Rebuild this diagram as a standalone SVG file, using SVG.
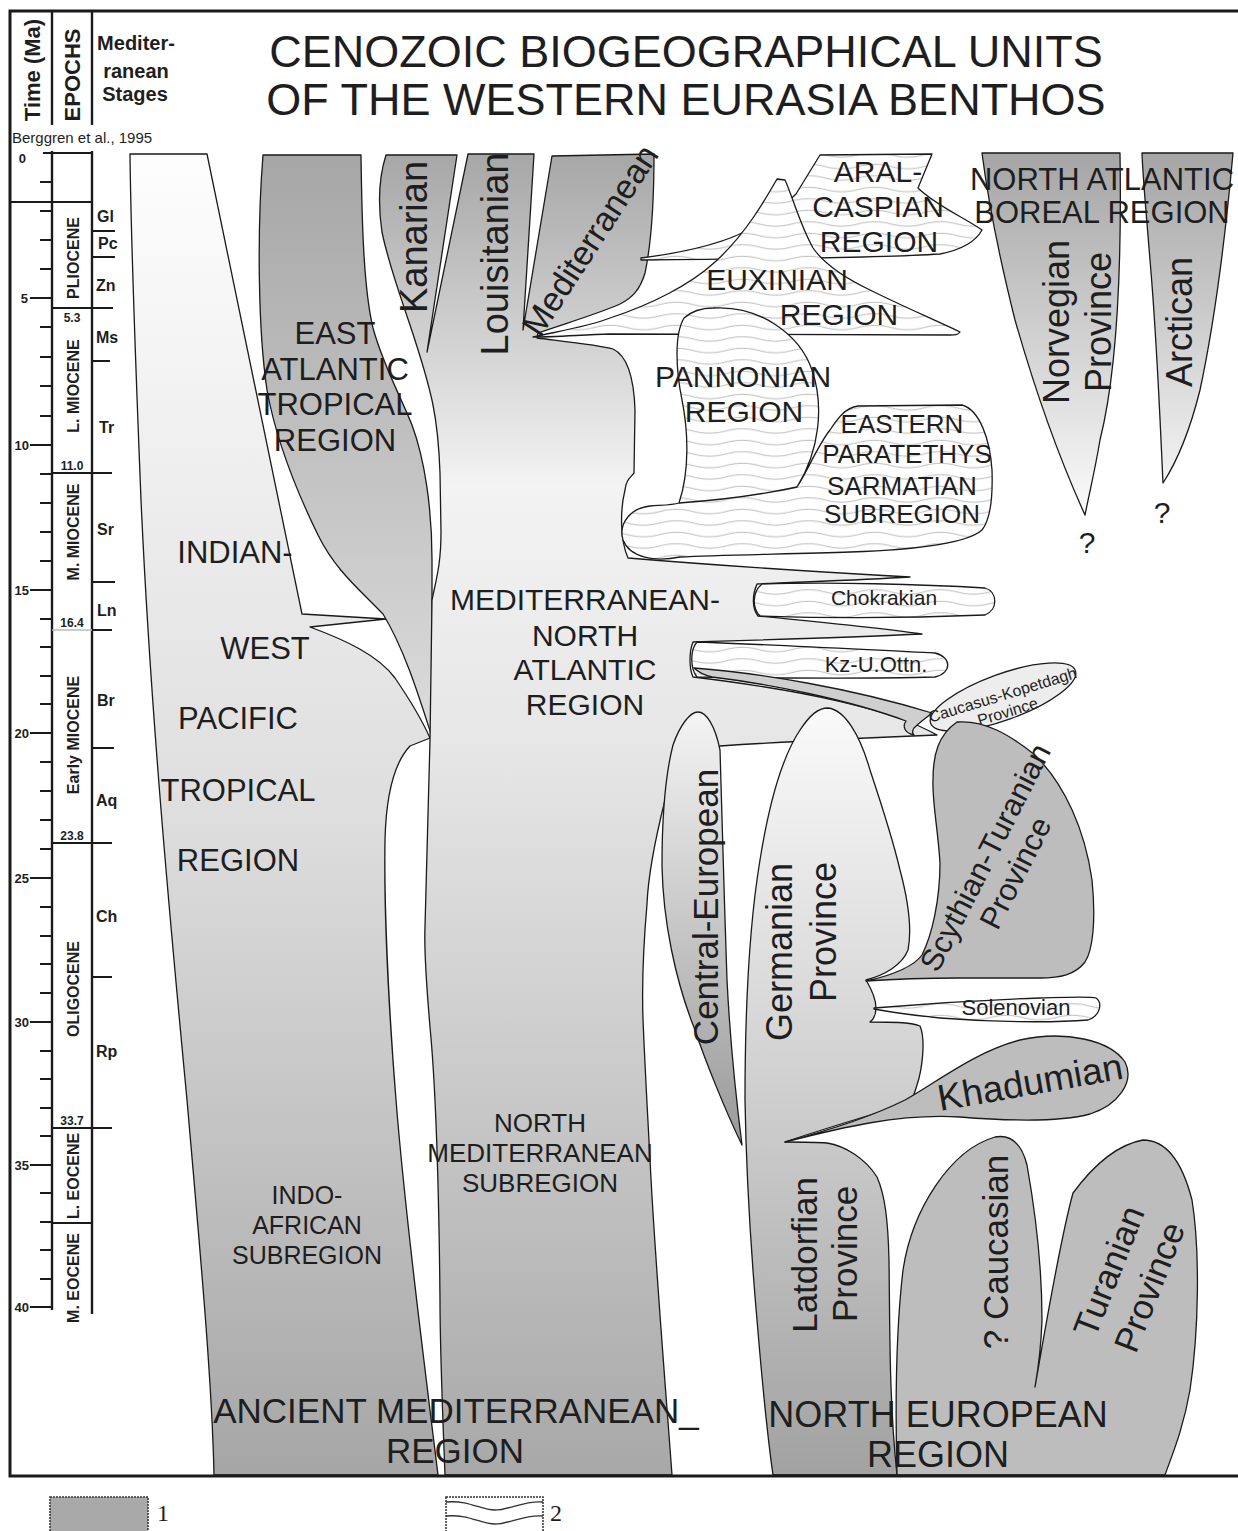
<svg xmlns="http://www.w3.org/2000/svg" width="1238" height="1531" viewBox="0 0 1238 1531">
<defs>
<style>
.t{font-family:"Liberation Sans",Arial,sans-serif;fill:#1e1e1e}
.b{font-weight:bold}
.o{stroke:#1a1a1a;stroke-width:1.3;stroke-linejoin:round}
.ln{stroke:#1a1a1a;stroke-width:2.4;fill:none}
.tk{stroke:#1a1a1a;stroke-width:2;fill:none}
.hat{fill:url(#wav)}
.solid{fill:#bdbdbd}
</style>
<linearGradient id="gL" gradientUnits="userSpaceOnUse" x1="0" y1="154" x2="0" y2="1475"><stop offset="0" stop-color="#fdfdfd"/><stop offset="0.5" stop-color="#dedede"/><stop offset="1" stop-color="#a6a6a6"/></linearGradient>
<linearGradient id="gE" gradientUnits="userSpaceOnUse" x1="0" y1="155" x2="0" y2="737"><stop offset="0" stop-color="#a6a6a6"/><stop offset="1" stop-color="#dcdcdc"/></linearGradient>
<linearGradient id="gM" gradientUnits="userSpaceOnUse" x1="0" y1="155" x2="0" y2="1475"><stop offset="0" stop-color="#a7a7a7"/><stop offset="0.25" stop-color="#f3f3f3"/><stop offset="0.45" stop-color="#e6e6e6"/><stop offset="1" stop-color="#a8a8a8"/></linearGradient>
<linearGradient id="gG" gradientUnits="userSpaceOnUse" x1="0" y1="708" x2="0" y2="1475"><stop offset="0" stop-color="#fafafa"/><stop offset="0.5" stop-color="#cfcfcf"/><stop offset="1" stop-color="#a2a2a2"/></linearGradient>
<linearGradient id="gC" gradientUnits="userSpaceOnUse" x1="0" y1="712" x2="0" y2="1145"><stop offset="0" stop-color="#f4f4f4"/><stop offset="1" stop-color="#999999"/></linearGradient>
<linearGradient id="gN" gradientUnits="userSpaceOnUse" x1="0" y1="153" x2="0" y2="515"><stop offset="0" stop-color="#a5a5a5"/><stop offset="1" stop-color="#fbfbfb"/></linearGradient>
<pattern id="wav" patternUnits="userSpaceOnUse" width="66" height="11.5"><rect width="66" height="11.5" fill="#ffffff"/><path d="M0,5.5 C11,2.5 22,2.5 33,5.5 S55,8.5 66,5.5" stroke="#9c9c9c" stroke-width="0.7" fill="none"/></pattern>
</defs>

<rect x="0" y="0" width="1238" height="1531" fill="#ffffff"/>

<g id="timescale">
<path class="ln" d="M52,11 V125 M92,11 V125 M52,151 V1310 M92,151 V1314"/>
<path class="tk" d="M43,153 H92 M10,202 H92 M52,308 H113 M52,473 H112 M92,630 H112 M52,843 H112 M52,1128 H112 M52,1223 H92"/>
<path stroke="#bbbbbb" stroke-width="1.5" d="M52,630 H92"/>
<path class="tk" d="M92,231 H115 M92,257 H115 M92,361 H110 M92,582 H115 M92,748 H114 M92,977 H112"/>
<path class="tk" d="M30,298 H52 M30,445 H52 M30,590 H52 M30,733 H52 M30,878 H52 M30,1022 H52 M30,1165 H52 M30,1307 H52"/>
<path class="tk" d="M40,182 H52 M40,211 H52 M40,240 H52 M40,269 H52 M40,327 H52 M40,357 H52 M40,386 H52 M40,416 H52 M40,474 H52 M40,503 H52 M40,532 H52 M40,561 H52 M40,619 H52 M40,647 H52 M40,676 H52 M40,704 H52 M40,762 H52 M40,791 H52 M40,820 H52 M40,849 H52 M40,907 H52 M40,936 H52 M40,964 H52 M40,993 H52 M40,1051 H52 M40,1079 H52 M40,1108 H52 M40,1136 H52 M40,1193 H52 M40,1222 H52 M40,1250 H52 M40,1279 H52"/>
<g class="t b" font-size="13" text-anchor="end">
<text x="26" y="163">0</text><text x="28" y="303">5</text><text x="29" y="450">10</text><text x="29" y="595">15</text><text x="29" y="738">20</text><text x="29" y="883">25</text><text x="29" y="1027">30</text><text x="29" y="1170">35</text><text x="29" y="1312">40</text>
</g>
<g class="t b" font-size="12" text-anchor="middle">
<text x="72" y="322">5.3</text><text x="72" y="470">11.0</text><text x="72" y="627">16.4</text><text x="72" y="840">23.8</text><text x="72" y="1125">33.7</text>
</g>
<g class="t b" font-size="16" text-anchor="middle">
<text transform="translate(73,258) rotate(-90)" dy="0.36em">PLIOCENE</text>
<text transform="translate(73,386) rotate(-90)" dy="0.36em">L. MIOCENE</text>
<text transform="translate(73,532) rotate(-90)" dy="0.36em">M. MIOCENE</text>
<text transform="translate(73,735) rotate(-90)" dy="0.36em">Early MIOCENE</text>
<text transform="translate(73,989) rotate(-90)" dy="0.36em">OLIGOCENE</text>
<text transform="translate(73,1176) rotate(-90)" dy="0.36em">L. EOCENE</text>
<text transform="translate(73,1278) rotate(-90)" dy="0.36em">M. EOCENE</text>
</g>
<g class="t b" font-size="16">
<text x="97" y="222">Gl</text><text x="98" y="249">Pc</text><text x="96" y="291">Zn</text><text x="96" y="343">Ms</text><text x="99" y="433">Tr</text><text x="97" y="535">Sr</text><text x="97" y="616">Ln</text><text x="97" y="706">Br</text><text x="96" y="806">Aq</text><text x="96" y="922">Ch</text><text x="96" y="1057">Rp</text>
</g>
<text class="t b" font-size="22" text-anchor="middle" transform="translate(32,70) rotate(-90)" dy="0.36em">Time (Ma)</text>
<text class="t b" font-size="22" text-anchor="middle" transform="translate(72,75) rotate(-90)" dy="0.36em">EPOCHS</text>
<g class="t b" font-size="20" text-anchor="middle">
<text x="136" y="50">Mediter-</text><text x="136" y="78">ranean</text><text x="135" y="101">Stages</text>
</g>
<text class="t" font-size="15" x="12" y="143">Berggren et al., 1995</text>
</g>

<g id="title" class="t" font-size="45" text-anchor="middle">
<text x="686" y="67">CENOZOIC BIOGEOGRAPHICAL UNITS</text>
<text x="686" y="115">OF THE WESTERN EURASIA BENTHOS</text>
</g>

<g id="connectors"></g>

<g id="indo-west-pacific">
<path class="o" fill="url(#gL)" d="M130,154 L207,154 L302,614 L386,619 L310,627 C345,640 378,655 395,678 C410,700 422,720 430,738 L410,746 C392,765 386,800 385,840 C384,900 388,1000 396,1100 C404,1200 420,1330 438,1475 L214,1475 C212,1380 200,1250 187,1100 C168,900 150,700 141,500 C135,350 131,250 130,154 Z"/>
</g>

<g id="east-atlantic">
<path class="o" fill="url(#gE)" d="M263,155 L361,155 C362,230 364,290 373,328 C383,365 400,395 412,425 C425,460 432,510 432,560 L432,737 C420,700 405,650 383,614 C360,590 335,570 318,535 C296,490 276,440 267,390 C258,330 257,230 263,155 Z"/>
</g>

<g id="mediterranean-north-atlantic">
<path class="o" fill="url(#gM)" d="M386,155 L457,155 L427,352 L468,154 L534,154 L523,330 L552,156 L654,154 C654,190 652,240 645,273 C640,290 632,298 620,304 C595,315 560,325 538,333 L537,338 C570,342 600,345 613,349 C628,356 634,380 635,410 L634,473 C630,478 626,480 625,490 C620,510 620,540 628,558 C700,564 820,572 910,577 C860,580 800,582 757,584 C752,595 752,608 758,616 C820,622 880,628 922,634 C860,637 760,640 693,642 C689,652 689,668 693,677 C760,685 840,698 900,718 C915,724 928,730 937,735 C860,738 780,742 720,746 C700,760 680,780 665,800 C655,840 648,880 647,904 C643,950 642,990 643,1019 C645,1070 648,1120 650,1160 C655,1260 665,1380 672,1475 L445,1475 C442,1400 440,1330 440,1300 C439,1200 437,1100 430,1027 C426,980 424,950 425,927 C426,880 428,830 430,740 L432,600 C436,580 441,565 441,532 L440,473 C439,445 437,425 433,405 C428,380 420,355 410,325 C400,295 388,262 382,232 C378,205 378,180 386,155 Z"/>
</g>

<g id="central-european">
<path class="o" fill="url(#gC)" d="M698,712 C706,712 715,725 720,750 C722,800 724,900 727,980 C730,1040 735,1090 742,1145 C725,1110 705,1060 695,1030 C675,980 663,920 662,866 C662,820 664,780 673,745 C680,725 690,712 698,712 Z"/>
<text class="t" font-size="35" text-anchor="middle" transform="translate(718,907) rotate(-90)">Central-European</text>
</g>

<g id="germanian-latdorfian">
<path class="o" fill="url(#gG)" d="M828,708 C845,710 860,735 870,770 C880,800 893,840 900,870 C908,900 912,930 908,950 C902,965 885,975 866,980 C872,990 876,1000 876,1008 C876,1014 874,1019 870,1022 C890,1022 910,1022 920,1026 C926,1040 922,1070 917,1085 C914,1095 912,1100 910,1103 C870,1115 820,1130 785,1142 C800,1142 815,1142 827,1143 C845,1146 865,1158 877,1177 C885,1195 888,1220 889,1260 C890,1330 889,1400 897,1475 L773,1475 C768,1440 762,1380 757,1320 C750,1240 746,1160 745,1100 C745,1000 750,920 760,860 C768,810 780,760 800,730 C810,715 818,708 828,708 Z"/>
<text class="t" font-size="36" text-anchor="middle" transform="translate(792,952) rotate(-90)">Germanian</text>
<text class="t" font-size="36" text-anchor="middle" transform="translate(836,932) rotate(-90)">Province</text>
<text class="t" font-size="35" text-anchor="middle" transform="translate(817,1255) rotate(-90)">Latdorfian</text>
<text class="t" font-size="35" text-anchor="middle" transform="translate(857,1254) rotate(-90)">Province</text>
</g>

<g id="aral-caspian">
<path class="o hat" d="M641,258 C680,253 720,245 748,230 C768,218 785,205 796,194 L820,155 L932,154 L918,188 C935,205 965,218 982,230 C975,243 960,250 940,254 C880,258 760,259 641,260 Z"/>
</g>

<g id="euxinian">
<path class="o hat" d="M533,337 C560,331 590,326 610,318 C650,305 690,285 715,262 C745,235 765,200 777,179 L785,180 C792,195 800,225 813,248 C825,265 845,278 870,290 C900,305 935,320 960,332 C958,335 955,335 950,335 L610,334 C580,335 555,337 533,337 Z"/>
</g>

<g id="pannonian-sarmatian">
<path class="o hat" d="M713,308 C760,305 800,335 812,370 C824,405 820,450 797,487 C808,470 818,445 830,430 C838,418 845,408 858,406 L962,405 C980,410 990,440 992,470 C993,500 990,520 982,530 C965,545 910,550 850,552 C790,554 720,555 680,557 C655,562 630,558 623,540 C618,522 632,508 650,506 C665,505 673,505 679,503 C690,470 688,430 682,400 C676,370 674,335 684,318 C693,310 703,308 713,308 Z"/>
<path class="o" fill="none" d="M679,503 C720,500 760,495 797,487"/>
</g>

<g id="chokrakian">
<path class="o hat" d="M762,584 C830,582 920,584 985,588 C998,592 998,610 985,615 C910,618 820,618 760,616 C752,608 752,592 762,584 Z"/>
<text class="t" font-size="21" x="884" y="605" text-anchor="middle">Chokrakian</text>
</g>

<g id="kz-u-ottn">
<path class="o hat" d="M697,642 C780,645 870,650 935,653 C952,657 952,673 935,677 C860,679 770,678 697,677 C690,668 690,650 697,642 Z"/>
<text class="t" font-size="22" x="876" y="672" text-anchor="middle">Kz-U.Ottn.</text>
</g>

<g id="caucasus-kopetdagh">
<path class="o" fill="#cfcfcf" d="M694,668 C760,673 850,688 932,713 C926,718 920,722 914,728 C912,731 912,733 914,735 C905,733 902,727 906,721 C850,700 770,684 712,677 C704,675 698,672 694,668 Z"/>
<ellipse class="o" fill="#ededed" cx="1003" cy="697" rx="77" ry="23" transform="rotate(-20 1003 697)"/>
<g transform="translate(1005,703) rotate(-17)" class="t" font-size="16" text-anchor="middle">
<text x="0" y="-3">Caucasus-Kopetdagh</text><text x="0" y="14.5">Province</text>
</g>
</g>

<g id="scythian-turanian">
<path class="o solid" d="M957,722 C985,720 1010,735 1035,755 C1065,785 1085,830 1092,880 C1096,920 1093,950 1085,962 C1075,975 1060,978 1040,978 L960,978 C930,978 895,979 866,981 C895,975 915,965 922,955 C932,935 940,900 940,863 C938,830 932,800 933,780 C933,755 938,735 957,722 Z"/>
<g transform="translate(1000,865) rotate(-63)" class="t" font-size="31" text-anchor="middle">
<text x="0" y="-6">Scythian-Turanian</text><text x="0" y="28">Province</text>
</g>
</g>

<g id="solenovian">
<path class="o hat" d="M874,1008 C920,1004 980,1000 1040,998 C1070,997 1090,996 1096,998 C1103,1003 1100,1016 1088,1020 C1050,1023 990,1022 940,1018 C910,1015 890,1012 874,1009 Z"/>
<text class="t" font-size="22" x="1016" y="1015" text-anchor="middle">Solenovian</text>
</g>

<g id="khadumian">
<path class="o solid" d="M785,1142 C830,1130 875,1115 905,1100 C940,1080 975,1052 1020,1040 C1065,1030 1110,1040 1125,1062 C1135,1082 1118,1105 1090,1114 C1060,1122 1010,1121 960,1117 C900,1113 840,1128 785,1142 Z"/>
<text class="t" font-size="37" text-anchor="middle" transform="translate(1030,1082) rotate(-10)" y="13">Khadumian</text>
</g>

<g id="caucasian-turanian">
<path class="o solid" d="M897,1475 C895,1400 896,1330 903,1270 C912,1210 950,1150 995,1137 C1012,1134 1022,1145 1027,1165 C1035,1210 1042,1270 1042,1320 C1041,1350 1038,1370 1035,1387 C1045,1330 1060,1240 1073,1193 C1090,1170 1115,1145 1143,1140 C1168,1140 1183,1165 1192,1200 C1200,1250 1199,1330 1190,1390 C1183,1430 1172,1455 1165,1475 Z"/>
<text class="t" font-size="35" text-anchor="middle" transform="translate(1008,1252) rotate(-90)">? Caucasian</text>
<g transform="translate(1129,1279) rotate(-68.5)" class="t" font-size="35" text-anchor="middle">
<text x="0" y="-9.5">Turanian</text><text x="0" y="34">Province</text>
</g>
</g>

<g id="norvegian">
<path class="o" fill="url(#gN)" d="M982,153 L1120,153 C1122,280 1115,380 1100,440 C1095,470 1090,490 1085,515 C1060,460 1035,390 1015,320 C1000,260 988,200 982,153 Z"/>
<text class="t" font-size="36" text-anchor="middle" transform="translate(1069,322) rotate(-90)">Norvegian</text>
<text class="t" font-size="36" text-anchor="middle" transform="translate(1111,322) rotate(-90)">Province</text>
<text class="t" font-size="30" x="1087" y="553" text-anchor="middle">?</text>
</g>

<g id="arctican">
<path class="o" fill="url(#gN)" d="M1142,153 L1233,153 C1226,230 1215,320 1200,390 C1190,430 1178,460 1163,483 C1160,420 1157,340 1150,260 C1146,210 1143,180 1142,153 Z"/>
<text class="t" font-size="36" text-anchor="middle" transform="translate(1192,322) rotate(-90)">Arctican</text>
<text class="t" font-size="30" x="1162" y="523" text-anchor="middle">?</text>
</g>

<g id="labels-provinces" class="t" text-anchor="middle">
<text font-size="38" transform="translate(427,237) rotate(-90)">Kanarian</text>
<text font-size="38" transform="translate(508,254) rotate(-90)">Louisitanian</text>
<text font-size="34" transform="translate(590,240) rotate(-57)" y="12">Mediterranean</text>
</g>

<g id="labels-regions" class="t" text-anchor="middle">
<g font-size="31"><text x="335" y="344">EAST</text><text x="335" y="380">ATLANTIC</text><text x="335" y="415">TROPICAL</text><text x="335" y="451">REGION</text></g>
<g font-size="31"><text x="235" y="563">INDIAN-</text><text x="265" y="659">WEST</text><text x="238" y="729">PACIFIC</text><text x="238" y="801">TROPICAL</text><text x="238" y="871">REGION</text></g>
<g font-size="30"><text x="585" y="610">MEDITERRANEAN-</text><text x="585" y="646">NORTH</text><text x="585" y="680">ATLANTIC</text><text x="585" y="715">REGION</text></g>
<g font-size="26"><text x="540" y="1132">NORTH</text><text x="540" y="1162">MEDITERRANEAN</text><text x="540" y="1192">SUBREGION</text></g>
<g font-size="25"><text x="307" y="1204">INDO-</text><text x="307" y="1234">AFRICAN</text><text x="307" y="1264">SUBREGION</text></g>
<g font-size="35"><text x="456" y="1423">ANCIENT MEDITERRANEAN_</text><text x="455" y="1463">REGION</text></g>
<g font-size="36"><text x="938" y="1427">NORTH EUROPEAN</text><text x="938" y="1467">REGION</text></g>
<g font-size="31"><text x="1102" y="190">NORTH ATLANTIC</text><text x="1102" y="223">BOREAL REGION</text></g>
<g font-size="30"><text x="878" y="182">ARAL-</text><text x="878" y="217">CASPIAN</text><text x="879" y="252">REGION</text></g>
<g font-size="30"><text x="777" y="290">EUXINIAN</text><text x="839" y="325">REGION</text></g>
<g font-size="30"><text x="743" y="387">PANNONIAN</text><text x="744" y="422">REGION</text></g>
<g font-size="26"><text x="902" y="433">EASTERN</text><text x="907" y="463">PARATETHYS</text><text x="902" y="495">SARMATIAN</text><text x="902" y="523">SUBREGION</text></g>
</g>

<g id="frame">
<path d="M1238,11 H10 V1476 H1238" fill="none" stroke="#1a1a1a" stroke-width="3"/>
</g>

<g id="legend">
<rect x="50" y="1497" width="98" height="36" fill="#a9a9a9" stroke="#333" stroke-width="1.5" stroke-dasharray="2 1"/>
<text x="157" y="1521" font-family="Liberation Serif, serif" font-size="24" fill="#1e1e1e">1</text>
<rect x="446" y="1497" width="97" height="36" fill="#ffffff" stroke="#333" stroke-width="1.5" stroke-dasharray="2 1"/>
<path d="M446,1502 C470,1500 480,1510 495,1510 C510,1510 525,1500 543,1502 M446,1516 C470,1514 480,1524 495,1524 C510,1524 525,1514 543,1516" fill="none" stroke="#333" stroke-width="1.3"/>
<text x="550" y="1521" font-family="Liberation Serif, serif" font-size="24" fill="#1e1e1e">2</text>
</g>
</svg>
